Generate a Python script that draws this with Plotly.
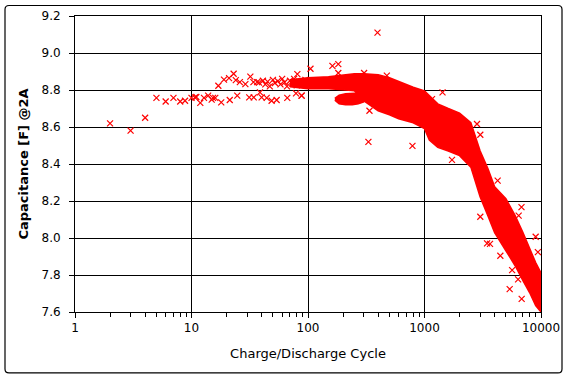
import plotly.graph_objects as go

# ---- data ----
# sparse early cycles (individual markers)
early_cycles = [2, 3, 4, 5, 6, 7, 8, 8.8, 10, 10.7, 11, 11.9, 12.8, 13.9, 14.9, 15.3, 16, 17, 18, 19, 21, 21.3, 23, 24, 24.7,
                26, 29, 31.3, 32, 34, 34.2, 36.6, 38.7, 40, 44.2, 48.7, 53.8, 66.4, 78.9, 88.3,
                38, 41, 43, 45, 47, 50, 52, 55, 58, 60, 63, 66, 70, 73, 76, 80, 84, 90, 95]
early_caps = [8.62, 8.58, 8.65, 8.757, 8.738, 8.757, 8.738, 8.742, 8.757, 8.76, 8.762, 8.73, 8.757, 8.77, 8.748, 8.757, 8.757, 8.823, 8.733, 8.856, 8.864, 8.746, 8.888, 8.853, 8.77,
              8.843, 8.832, 8.76, 8.872, 8.843, 8.76, 8.843, 8.787, 8.76, 8.757, 8.742, 8.746, 8.757, 8.782, 8.77,
              8.84, 8.85, 8.83, 8.845, 8.82, 8.855, 8.838, 8.848, 8.83, 8.86, 8.842, 8.82, 8.85, 8.835, 8.86, 8.825, 8.845, 8.83, 8.855]

# isolated outliers above/below the dense cloud
out_cycles = [395, 162, 182, 182, 105, 330, 788, 1428, 1160, 303, 337, 81, 475, 88,
              2823, 3013, 1722, 4245, 3013, 6800, 6430, 3443, 3650, 4477, 9000, 9400, 5385, 6825, 6360, 5650]
out_caps = [9.11, 8.93, 8.94, 8.892, 8.915, 8.52, 8.498, 8.787, 8.751, 8.892, 8.688, 8.886, 8.878, 8.77,
            8.616, 8.558, 8.422, 8.31, 8.115, 8.167, 8.121, 7.971, 7.968, 7.904, 8.007, 7.924, 7.724, 7.671, 7.776, 7.826]

# dense cloud: upper and lower envelope per cycle
band_cycles = [70, 100, 150, 200, 250, 300, 400, 500, 600, 800, 1000, 1100, 1300, 1600, 2000, 2500,
               3000, 3500, 4000, 5000, 6000, 7000, 8000, 9000, 10000]
band_upper = [8.856, 8.866, 8.872, 8.883, 8.888, 8.888, 8.883, 8.866, 8.845, 8.815, 8.795, 8.77, 8.725, 8.70, 8.675, 8.623,
              8.472, 8.375, 8.277, 8.212, 8.121, 8.029, 7.942, 7.867, 7.812]
band_lower = [8.818, 8.807, 8.807, 8.802, 8.796, 8.742, 8.688, 8.666, 8.645, 8.623, 8.591, 8.53, 8.49, 8.47, 8.445, 8.383,
              8.223, 8.121, 8.029, 7.931, 7.850, 7.769, 7.704, 7.634, 7.6]

# secondary lower cluster around 180-300 cycles
blob_cycles = [170, 185, 210, 240, 270, 300]
blob_upper = [8.755, 8.772, 8.78, 8.783, 8.785, 8.785]
blob_lower = [8.745, 8.725, 8.72, 8.72, 8.725, 8.735]

x_tickvals = [1, 10, 100, 1000, 10000]
x_ticktext = ["1", "10", "100", "1000", "10000"]
x_minor = [m * d for d in [1, 10, 100, 1000] for m in range(2, 10)]
y_tickvals = [7.6, 7.8, 8.0, 8.2, 8.4, 8.6, 8.8, 9.0, 9.2]

RED = "#FF0000"
FONT = "DejaVu Sans"

fig = go.Figure()

fig.add_trace(go.Scatter(
    x=band_cycles + band_cycles[::-1], y=band_upper + band_lower[::-1],
    mode="lines", fill="toself", fillcolor=RED, line=dict(color=RED, width=1.5),
    hoverinfo="skip", showlegend=False))
fig.add_trace(go.Scatter(
    x=blob_cycles + blob_cycles[::-1], y=blob_upper + blob_lower[::-1],
    mode="lines", fill="toself", fillcolor=RED, line=dict(color=RED, width=1.5),
    hoverinfo="skip", showlegend=False))

fig.add_trace(go.Scatter(
    x=early_cycles + out_cycles, y=early_caps + out_caps, mode="markers",
    marker=dict(symbol="x-thin", size=6, color=RED, line=dict(color=RED, width=1.2)),
    showlegend=False))

axis_common = dict(showline=True, mirror=True, linecolor="black", linewidth=1,
                   showgrid=True, gridcolor="black", gridwidth=1, zeroline=False,
                   automargin=False,
                   tickfont=dict(family=FONT, size=12, color="black"),
                   ticks="outside", ticklen=5, tickcolor="black", tickwidth=1)

fig.update_xaxes(type="log", range=[0, 4], tickvals=x_tickvals, ticktext=x_ticktext,
                 minor=dict(tickvals=x_minor, ticks="outside", ticklen=4, tickcolor="black", showgrid=False),
                 title=dict(text="Charge/Discharge Cycle", font=dict(family=FONT, size=13, color="black"), standoff=14),
                 **axis_common)
fig.update_yaxes(range=[7.6, 9.2], tickvals=y_tickvals, tickformat=".1f",
                 ticklabelstandoff=6,
                 title=dict(text="<b>Capacitance [F] @2A</b>", font=dict(family=FONT, size=13, color="black"), standoff=9),
                 **axis_common)

L, R, T, B = 75, 27, 15.5, 67
W, H = 568, 379
pw, ph = W - L - R, H - T - B

def px(xp):
    return (xp - L) / pw

def py(yp):
    return (H - B - yp) / ph

x0, x1, y0, y1 = px(5), px(562), py(373), py(5)
rx, ry = 4 / pw, 4 / ph
path = (f"M {x0+rx},{y1} L {x1-rx},{y1} Q {x1},{y1} {x1},{y1-ry} "
        f"L {x1},{y0+ry} Q {x1},{y0} {x1-rx},{y0} L {x0+rx},{y0} Q {x0},{y0} {x0},{y0+ry} "
        f"L {x0},{y1-ry} Q {x0},{y1} {x0+rx},{y1} Z")
fig.add_shape(type="path", path=path, xref="paper", yref="paper",
              line=dict(color="black", width=1.2), layer="below")

fig.update_layout(width=W, height=H, margin=dict(l=L, r=R, t=T, b=B),
                  paper_bgcolor="white", plot_bgcolor="white",
                  font=dict(family=FONT, size=12, color="black"))

fig.write_html("out.html", config={"displayModeBar": False},
               post_script="document.body.style.margin='0';document.body.style.overflow='hidden';")
